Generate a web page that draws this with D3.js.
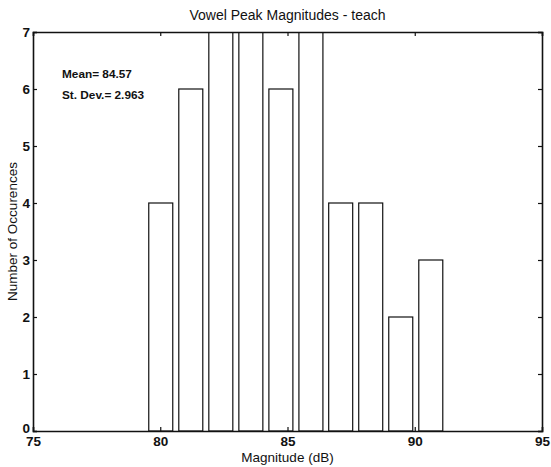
<!DOCTYPE html>
<html><head><meta charset="utf-8">
<script src="https://cdn.jsdelivr.net/npm/d3@7"></script>
<style>body{margin:0;background:#fff}svg{display:block}text{font-family:"Liberation Sans",Arial,sans-serif;fill:#111}</style>
</head><body><svg id="c" width="551" height="467"></svg>
<script>
const binCenters = [80.02, 81.20, 82.38, 83.56, 84.74, 85.92, 87.09, 88.27, 89.45, 90.63];
const counts = [4, 6, 7, 7, 6, 7, 4, 4, 2, 3];
const barWidth = 0.943;
const xTicks = [75, 80, 85, 90, 95];
const yTicks = [0, 1, 2, 3, 4, 5, 6, 7];
const title = "Vowel Peak Magnitudes - teach";
const xLabel = "Magnitude (dB)";
const yLabel = "Number of Occurences";
const notes = ["Mean= 84.57", "St. Dev.= 2.963"];

const svg = d3.select("#c");
const L = 33, R = 542, T = 32, B = 431;
const x = d3.scaleLinear().domain([75, 95]).range([L, R]);
const y = d3.scaleLinear().domain([0, 7]).range([B, T]);

svg.append("clipPath").attr("id","pc").append("rect")
  .attr("x", L).attr("y", T).attr("width", R-L).attr("height", B-T);

svg.append("g").attr("clip-path","url(#pc)").selectAll("rect").data(binCenters).join("rect")
  .attr("x", (d)=>x(d-barWidth/2))
  .attr("width", (d)=>x(d+barWidth/2)-x(d-barWidth/2))
  .attr("y", (d,i)=>y(Math.min(counts[i],7.2)))
  .attr("height", (d,i)=>B - y(Math.min(counts[i],7.2)))
  .attr("fill","#fff").attr("stroke","#111").attr("stroke-width",1.2);

const tl = 4;
const axB = svg.append("g").attr("transform",`translate(0,${B})`)
  .call(d3.axisBottom(x).tickValues(xTicks).tickSize(-tl).tickPadding(5).tickFormat(d3.format("d")));
const axT = svg.append("g").attr("transform",`translate(0,${T})`)
  .call(d3.axisTop(x).tickValues(xTicks).tickSize(-tl).tickFormat(""));
const axL = svg.append("g").attr("transform",`translate(${L},0)`)
  .call(d3.axisLeft(y).tickValues(yTicks).tickSize(-tl).tickPadding(3).tickFormat(d3.format("d")));
const axR = svg.append("g").attr("transform",`translate(${R},0)`)
  .call(d3.axisRight(y).tickValues(yTicks).tickSize(-tl).tickFormat(""));
[axB,axT,axL,axR].forEach(a=>{
  a.select(".domain").attr("stroke","#111").attr("stroke-width",1.6);
  a.selectAll(".tick line").attr("stroke","#111").attr("stroke-width",1.2);
  a.selectAll("text").attr("font-size",13.5).attr("font-weight","bold").attr("fill","#111")
   .attr("font-family",'"Liberation Sans",Arial,sans-serif');
});
axL.selectAll(".tick text").attr("dy","0.36em");
axL.selectAll(".tick").filter(d=>d===0).select("text").attr("dy","0.1em");
axB.selectAll(".tick text").attr("dy","0.75em");

svg.append("text").attr("x",(L+R)/2).attr("y",20).attr("text-anchor","middle")
  .attr("font-size",14).text(title);
svg.append("text").attr("x",(L+R)/2).attr("y",462).attr("text-anchor","middle")
  .attr("font-size",13.5).text(xLabel);
svg.append("text").attr("transform",`translate(17,${(T+B)/2}) rotate(-90)`).attr("text-anchor","middle")
  .attr("font-size",13.5).text(yLabel);
svg.selectAll(".note").data(notes).join("text").attr("class","note")
  .attr("x",62).attr("y",(d,i)=>78+i*21).attr("font-size",11.8).attr("font-weight","bold").text(d=>d);
</script></body></html>
